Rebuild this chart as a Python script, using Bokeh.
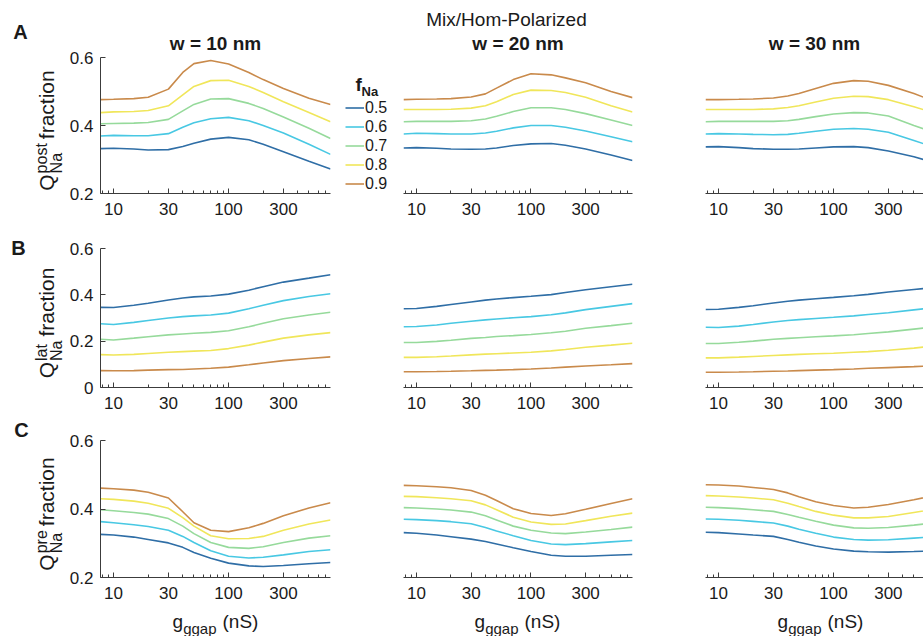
import math
from bokeh.plotting import figure
from bokeh.models import (Label, Legend, LegendItem, FixedTicker, NumeralTickFormatter,
                          Range1d, Title)
from bokeh.layouts import column, row
from bokeh.embed import file_html
from bokeh.resources import INLINE

FONT = "Liberation Sans"
TXT = "#1a1a1a"
AX = "#3c3c3c"

# ---------------- data ----------------
g_gap = [7.7, 10, 15, 20, 30, 40, 50, 70, 100, 150, 200, 300, 500, 770]
f_na = ["0.5", "0.6", "0.7", "0.8", "0.9"]
colors = ["#2f6ea6", "#48c8e3", "#96da9b", "#f0e65a", "#c98a4b"]
widths = ["w = 10 nm", "w = 20 nm", "w = 30 nm"]
x_ticks = [10, 30, 100, 300]
x_minor = [8, 9, 20, 40, 50, 60, 70, 80, 90, 200, 400, 500, 600, 700]

post_w10 = [
    [0.332, 0.333, 0.331, 0.328, 0.329, 0.338, 0.348, 0.360, 0.365, 0.358, 0.345, 0.323, 0.295, 0.272],
    [0.369, 0.371, 0.370, 0.370, 0.376, 0.395, 0.408, 0.420, 0.424, 0.414, 0.400, 0.378, 0.345, 0.315],
    [0.405, 0.406, 0.407, 0.409, 0.418, 0.443, 0.462, 0.478, 0.479, 0.465, 0.450, 0.425, 0.392, 0.362],
    [0.438, 0.440, 0.441, 0.444, 0.458, 0.490, 0.515, 0.532, 0.533, 0.515, 0.497, 0.470, 0.438, 0.411],
    [0.476, 0.477, 0.479, 0.483, 0.507, 0.556, 0.582, 0.591, 0.581, 0.556, 0.535, 0.509, 0.480, 0.462],
]
post_w20 = [
    [0.334, 0.335, 0.333, 0.331, 0.330, 0.331, 0.334, 0.341, 0.346, 0.347, 0.342, 0.331, 0.313, 0.297],
    [0.375, 0.377, 0.376, 0.375, 0.375, 0.378, 0.383, 0.393, 0.400, 0.400, 0.395, 0.384, 0.367, 0.352],
    [0.411, 0.412, 0.412, 0.412, 0.414, 0.419, 0.427, 0.441, 0.452, 0.452, 0.447, 0.435, 0.416, 0.400],
    [0.447, 0.447, 0.447, 0.448, 0.451, 0.458, 0.470, 0.491, 0.504, 0.503, 0.497, 0.483, 0.458, 0.440],
    [0.476, 0.477, 0.478, 0.479, 0.484, 0.493, 0.510, 0.535, 0.552, 0.549, 0.540, 0.526, 0.500, 0.482],
]
post_w30 = [
    [0.337, 0.338, 0.335, 0.332, 0.330, 0.330, 0.331, 0.334, 0.337, 0.338, 0.335, 0.325, 0.308, 0.290],
    [0.375, 0.376, 0.375, 0.374, 0.373, 0.374, 0.377, 0.383, 0.389, 0.391, 0.389, 0.380, 0.356, 0.335],
    [0.411, 0.412, 0.412, 0.412, 0.412, 0.414, 0.418, 0.426, 0.434, 0.438, 0.437, 0.428, 0.400, 0.378],
    [0.447, 0.447, 0.447, 0.447, 0.449, 0.453, 0.458, 0.469, 0.480, 0.486, 0.485, 0.476, 0.455, 0.436],
    [0.476, 0.476, 0.477, 0.478, 0.481, 0.487, 0.494, 0.509, 0.524, 0.532, 0.530, 0.518, 0.494, 0.470],
]
lat_w10 = [
    [0.346, 0.345, 0.355, 0.364, 0.378, 0.386, 0.391, 0.395, 0.403, 0.420, 0.435, 0.455, 0.472, 0.487],
    [0.275, 0.272, 0.281, 0.289, 0.300, 0.306, 0.309, 0.313, 0.321, 0.340, 0.355, 0.375, 0.393, 0.405],
    [0.208, 0.205, 0.213, 0.219, 0.227, 0.231, 0.234, 0.238, 0.245, 0.262, 0.277, 0.297, 0.313, 0.325],
    [0.142, 0.140, 0.143, 0.147, 0.152, 0.155, 0.157, 0.160, 0.168, 0.183, 0.196, 0.213, 0.227, 0.237],
    [0.073, 0.072, 0.073, 0.075, 0.077, 0.078, 0.080, 0.083, 0.088, 0.098, 0.106, 0.116, 0.125, 0.132],
]
lat_w20 = [
    [0.340, 0.341, 0.350, 0.358, 0.369, 0.377, 0.382, 0.388, 0.394, 0.401, 0.410, 0.422, 0.435, 0.446],
    [0.262, 0.263, 0.270, 0.277, 0.286, 0.292, 0.296, 0.301, 0.306, 0.314, 0.322, 0.336, 0.350, 0.362],
    [0.194, 0.194, 0.199, 0.204, 0.212, 0.216, 0.220, 0.224, 0.229, 0.236, 0.243, 0.256, 0.267, 0.277],
    [0.130, 0.130, 0.133, 0.136, 0.141, 0.144, 0.146, 0.149, 0.152, 0.158, 0.164, 0.174, 0.183, 0.191],
    [0.068, 0.068, 0.069, 0.070, 0.072, 0.074, 0.075, 0.077, 0.080, 0.084, 0.088, 0.093, 0.098, 0.103],
]
lat_w30 = [
    [0.337, 0.338, 0.346, 0.353, 0.365, 0.372, 0.377, 0.383, 0.389, 0.396, 0.402, 0.412, 0.423, 0.432],
    [0.260, 0.259, 0.265, 0.272, 0.283, 0.289, 0.293, 0.298, 0.303, 0.309, 0.315, 0.323, 0.335, 0.345],
    [0.190, 0.190, 0.195, 0.200, 0.208, 0.212, 0.215, 0.219, 0.223, 0.228, 0.233, 0.240, 0.252, 0.262],
    [0.128, 0.128, 0.131, 0.134, 0.138, 0.141, 0.143, 0.146, 0.148, 0.152, 0.155, 0.161, 0.170, 0.180],
    [0.066, 0.066, 0.067, 0.068, 0.070, 0.071, 0.073, 0.075, 0.077, 0.080, 0.083, 0.086, 0.090, 0.094],
]
pre_w10 = [
    [0.326, 0.324, 0.318, 0.311, 0.301, 0.288, 0.273, 0.256, 0.242, 0.234, 0.232, 0.235, 0.240, 0.244],
    [0.363, 0.360, 0.354, 0.349, 0.338, 0.320, 0.302, 0.278, 0.262, 0.257, 0.259, 0.266, 0.276, 0.281],
    [0.398, 0.395, 0.390, 0.385, 0.372, 0.350, 0.328, 0.302, 0.288, 0.285, 0.290, 0.302, 0.315, 0.322],
    [0.430, 0.428, 0.423, 0.417, 0.402, 0.375, 0.350, 0.322, 0.313, 0.314, 0.320, 0.338, 0.356, 0.368],
    [0.461, 0.459, 0.455, 0.449, 0.432, 0.392, 0.360, 0.338, 0.334, 0.345, 0.358, 0.380, 0.403, 0.418],
]
pre_w20 = [
    [0.331, 0.329, 0.324, 0.319, 0.312, 0.305, 0.298, 0.287, 0.276, 0.265, 0.262, 0.262, 0.265, 0.267],
    [0.370, 0.369, 0.366, 0.363, 0.357, 0.346, 0.336, 0.322, 0.308, 0.298, 0.296, 0.299, 0.304, 0.308],
    [0.404, 0.403, 0.400, 0.397, 0.391, 0.380, 0.368, 0.350, 0.338, 0.330, 0.328, 0.333, 0.340, 0.347],
    [0.437, 0.436, 0.433, 0.430, 0.424, 0.412, 0.398, 0.376, 0.362, 0.355, 0.356, 0.366, 0.379, 0.388],
    [0.469, 0.468, 0.465, 0.462, 0.454, 0.440, 0.425, 0.401, 0.387, 0.381, 0.386, 0.399, 0.416, 0.430],
]
pre_w30 = [
    [0.332, 0.331, 0.327, 0.324, 0.320, 0.311, 0.303, 0.292, 0.283, 0.277, 0.275, 0.274, 0.276, 0.278],
    [0.371, 0.370, 0.367, 0.364, 0.359, 0.350, 0.341, 0.329, 0.318, 0.311, 0.309, 0.310, 0.315, 0.319],
    [0.405, 0.404, 0.401, 0.398, 0.393, 0.384, 0.376, 0.364, 0.353, 0.345, 0.344, 0.346, 0.353, 0.360],
    [0.439, 0.438, 0.435, 0.432, 0.427, 0.417, 0.407, 0.393, 0.382, 0.374, 0.374, 0.378, 0.390, 0.400],
    [0.471, 0.470, 0.467, 0.463, 0.457, 0.447, 0.436, 0.421, 0.410, 0.403, 0.405, 0.413, 0.427, 0.440],
]
panel_data = [[post_w10, post_w20, post_w30],
              [lat_w10, lat_w20, lat_w30],
              [pre_w10, pre_w20, pre_w30]]
row_sup = ["post", "lat", "pre"]

# ---------------- geometry (page pixels) ----------------
W, H = 923, 636
YL_W = 66           # left strip: panel letters + y labels
TOP_H = 30          # top strip: super title
BOT_H = 31          # bottom strip: x labels
LEG_W = 52          # legend strip (row A only)
LEG_X0 = 340
MAIN_W = W - YL_W
# rows: (top border, frame height, bottom border, y range, y ticks)
rows = [(27, 136, 28, (0.2, 0.6), [0.2, 0.4, 0.6]),
        (27, 139, 28, (0.0, 0.6), [0.0, 0.2, 0.4, 0.6]),
        (25, 137, 28, (0.2, 0.6), [0.2, 0.4, 0.6])]
row_top = [TOP_H, TOP_H + 191, TOP_H + 191 + 194]
# plot columns: (left border, frame width, x range)
cols = [(34, 230, (7.7, 770)),
        (11, 229, (7.7, 770)),
        (12, 218, (7.7, 606))]

# Arial-like advance widths (em) for composing labels
CW = {"Q": .778, "p": .556, "o": .556, "s": .5, "t": .278, "l": .222, "a": .556,
      "r": .333, "e": .556, "N": .722, "f": .278, "c": .5, "i": .222, "n": .556,
      "g": .556, "(": .333, ")": .333, "S": .667, " ": .278}


def tw(text, size):
    return sum(CW.get(ch, .556) for ch in text) * size


def text_fig(w, h, top=0, bottom=0):
    p = figure(width=w, height=h, x_range=Range1d(0, w),
               y_range=Range1d(0, h - top - bottom),
               min_border=0, min_border_top=top, min_border_bottom=bottom,
               x_axis_location=None, y_axis_location=None,
               title=None, toolbar_location=None, output_backend="svg")
    p.outline_line_color = None
    p.background_fill_color = "white"
    p.border_fill_color = "white"
    p.grid.visible = False
    return p


def lab(p, x, y, text, size, bold=False, align="left", angle=0.0):
    # x, y in the data space of a text figure; y is the middle of the line
    p.add_layout(Label(x=x, y=y, text=text, text_font=FONT,
                       text_font_size=f"{size}px",
                       text_font_style="bold" if bold else "normal",
                       text_align=align, text_baseline="middle",
                       angle=angle, text_color=TXT))


def put(p, h, x, y, text, size, **kw):
    # x, y: pixels from the top-left corner of a borderless text figure
    lab(p, x, h - y, text, size, **kw)


def plot_fig(r, c, right_border):
    tb, fh, bb, yr, yt = rows[r]
    lb, fw, xr = cols[c]
    p = figure(width=lb + fw + right_border, height=tb + fh + bb,
               min_border_left=lb, min_border_right=right_border,
               min_border_top=tb, min_border_bottom=bb,
               x_axis_type="log", x_range=Range1d(*xr), y_range=Range1d(*yr),
               y_axis_location="left" if c == 0 else None,
               title=None, output_backend="svg", toolbar_location=None)
    p.outline_line_color = None
    p.background_fill_color = "white"
    p.border_fill_color = "white"
    p.xgrid.visible = False
    p.ygrid.visible = False

    xa = p.xaxis[0]
    xa.ticker = FixedTicker(ticks=x_ticks, minor_ticks=x_minor)
    xa.formatter = NumeralTickFormatter(format="0")
    xa.axis_line_color = AX
    xa.major_tick_line_color = AX
    xa.minor_tick_line_color = AX
    xa.major_tick_in = 5
    xa.major_tick_out = 0
    xa.minor_tick_in = 3
    xa.minor_tick_out = 0
    xa.major_label_standoff = 9
    xa.major_label_text_font = FONT
    xa.major_label_text_font_size = "17px"
    xa.major_label_text_color = TXT

    if c == 0:
        ya = p.yaxis[0]
        ya.ticker = FixedTicker(ticks=yt, minor_ticks=[])
        ya.formatter = NumeralTickFormatter(format="0.[0]")
        ya.axis_line_color = AX
        ya.major_tick_line_color = AX
        ya.major_tick_in = 5
        ya.major_tick_out = 0
        ya.minor_tick_line_color = None
        ya.major_label_standoff = 7
        ya.major_label_text_font = FONT
        ya.major_label_text_font_size = "17px"
        ya.major_label_text_color = TXT

    if r == 0:
        p.add_layout(Title(text=widths[c], align="center", vertical_align="top",
                           standoff=4, text_font=FONT, text_font_size="19px",
                           text_font_style="bold", text_color=TXT), "above")

    for k, series in enumerate(panel_data[r][c]):
        p.line(g_gap, series, line_color=colors[k], line_width=1.6)
    return p


# ---------------- left strip: panel letters and y labels ----------------
yl = text_fig(YL_W, H)
for lx, ly, lt in [(20, 31, "A"), (18, 247, "B"), (21, 429, "C")]:
    put(yl, H, lx, ly, lt, 20, bold=True, align="center")
MAIN, SCRIPT = 21, 16
ang = math.pi / 2
for r in range(3):
    tb, fh, bb, yr, yt = rows[r]
    cy = row_top[r] + tb + fh / 2.0
    sup = row_sup[r]
    wq = tw("Q", MAIN)
    ws = max(tw(sup, SCRIPT), tw("Na", SCRIPT))
    wf = tw("fraction", MAIN)
    start = cy + (wq + 1 + ws + 4 + wf) / 2.0 + 5
    put(yl, H, 46, start, "Q", MAIN, angle=ang)
    put(yl, H, 41, start - wq - 1, sup, SCRIPT, angle=ang)
    put(yl, H, 56, start - wq - 1, "Na", SCRIPT, angle=ang)
    put(yl, H, 46, start - wq - 1 - ws - 4, "fraction", MAIN, angle=ang)

# ---------------- top strip ----------------
top = text_fig(MAIN_W, TOP_H)
put(top, TOP_H, 506 - YL_W, 19, "Mix/Hom-Polarized", 19, align="center")

# ---------------- rows of panels ----------------
row_layouts = []
for r in range(3):
    tb, fh, bb, yr, yt = rows[r]
    h = tb + fh + bb
    if r == 0:
        p1 = plot_fig(r, 0, 10)
        # legend strip: its frame lines up with the panel frames of row A
        leg_fig = text_fig(LEG_W, h, top=tb, bottom=bb)
        fbot = row_top[0] + tb + fh          # page y of the frame bottom
        # legend handles only: single-point lines draw nothing themselves
        handles = [leg_fig.line([10], [10], line_color=colors[k], line_width=1.6)
                   for k in range(5)]
        items = [LegendItem(label=f, renderers=[d]) for f, d in zip(f_na, handles)]
        leg = Legend(items=items, location=(5, 0),
                     padding=0, margin=0, spacing=0,
                     label_height=19, glyph_height=19, glyph_width=19,
                     label_standoff=1, border_line_color=None,
                     background_fill_alpha=0, label_text_font=FONT,
                     label_text_font_size="16px", label_text_color=TXT)
        leg_fig.add_layout(leg)
        lab(leg_fig, 355 - LEG_X0, fbot - 84, "f", 19, bold=True)
        lab(leg_fig, 361 - LEG_X0, fbot - 91, "Na", 13, bold=True)
        children = [p1, leg_fig, plot_fig(r, 1, 61), plot_fig(r, 2, 0)]
    else:
        children = [plot_fig(r, 0, 62), plot_fig(r, 1, 61), plot_fig(r, 2, 0)]
    row_layouts.append(row(*children, spacing=0))

# ---------------- bottom strip: x labels ----------------
bot = text_fig(MAIN_W, BOT_H)
BOT_Y0 = H - BOT_H
XMAIN, XSUB = 19, 15
for cx in [215, 517, 820]:
    wg = tw("g", XMAIN)
    wsub = tw("ggap", XSUB)
    wn = tw("(nS)", XMAIN)
    x0 = cx - YL_W - (wg + wsub + 6 + wn) / 2.0
    put(bot, BOT_H, x0, 621 - BOT_Y0, "g", XMAIN)
    put(bot, BOT_H, x0 + wg, 627.5 - BOT_Y0, "ggap", XSUB)
    put(bot, BOT_H, x0 + wg + wsub + 6, 621 - BOT_Y0, "(nS)", XMAIN)

main = column(top, *row_layouts, bot, spacing=0)
layout = row(yl, main, spacing=0)
open("out.html", "w").write(file_html(layout, INLINE))
